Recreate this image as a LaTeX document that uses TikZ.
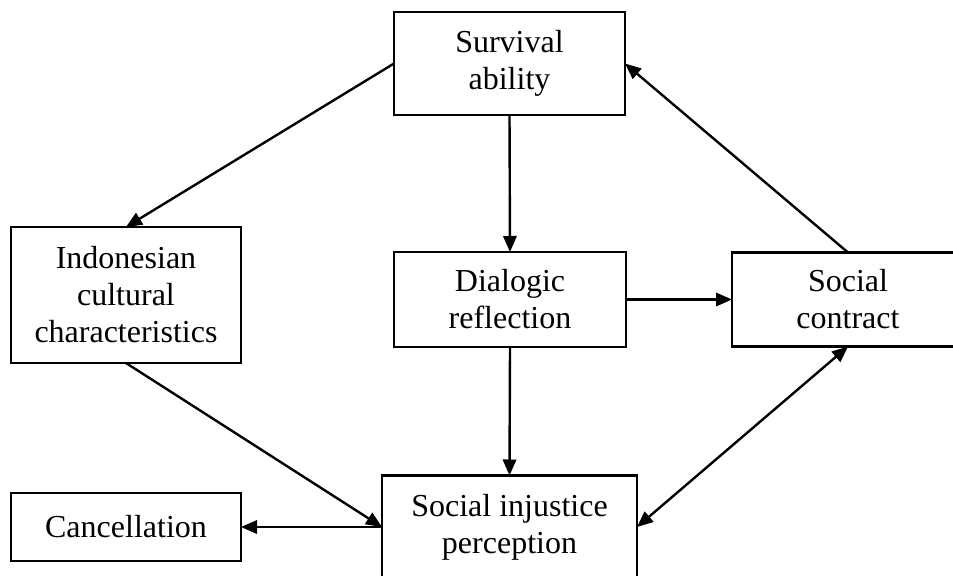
\documentclass[tikz,border=0pt]{standalone}
\usepackage{fontspec}
\setmainfont{Liberation Serif}
\usetikzlibrary{arrows.meta}
\begin{document}
\begin{tikzpicture}[x=0.75pt,y=-0.75pt,
  box/.style={draw, line width=1.6pt, inner sep=0pt, outer sep=0pt,
    align=center, font=\fontsize{24pt}{27.75pt}\selectfont},
  link/.style={line width=1.8pt, -{Triangle[length=12pt,width=10pt]}},
  both/.style={line width=1.8pt, {Triangle[length=12pt,width=10pt]}-{Triangle[length=12pt,width=10pt]}}]
  \useasboundingbox[fill=white] (0,0) rectangle (953,575);

  % boxes
  \node[box, minimum width=173.25pt, minimum height=77.25pt] (surv) at (509.5,63.5) {Survival\\ability};
  \node[box, minimum width=172.5pt, minimum height=102pt] (indo) at (126,295) {Indonesian\\cultural\\characteristics};
  \node[box, minimum width=174pt, minimum height=71.25pt] (dial) at (510,299.5) {Dialogic\\reflection};
  \node[box, minimum width=174pt, minimum height=70.5pt] (soc) at (848,299.5) {Social\\contract};
  \node[box, minimum width=191.25pt, minimum height=77.25pt] (inj) at (509.5,527) {Social injustice\\perception};
  \node[box, minimum width=172.5pt, minimum height=51pt] (canc) at (126,527) {Cancellation};

  % connectors
  \draw[link] (surv.west) -- (indo.north);
  \draw[link] (surv.south) -- (dial.north);
  \draw[link] (soc.north) -- (surv.east);
  \draw[link] (dial.east) -- (soc.west);
  \draw[link] (dial.south) -- (inj.north);
  \draw[link] (indo.south) -- (inj.west);
  \draw[link] (inj.west) -- (canc.east);
  \draw[both] (inj.east) -- (soc.south);
\end{tikzpicture}
\end{document}
